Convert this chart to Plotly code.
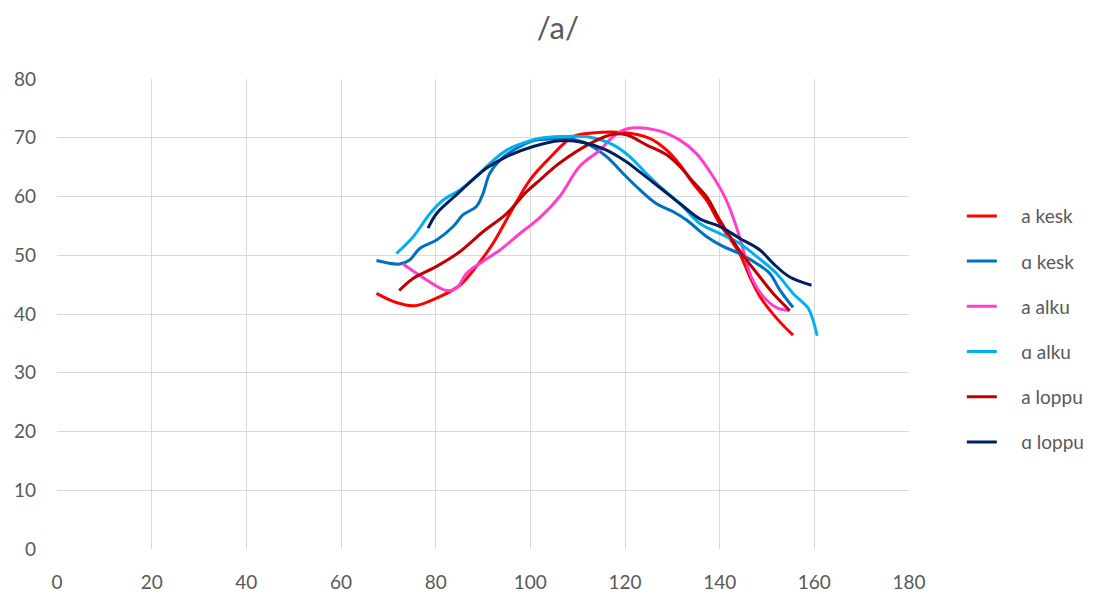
import plotly.graph_objects as go

# a kesk
a_kesk_x = [67.5, 71.5, 75.6, 80.2, 85.1, 88.6, 92.1, 95.7, 99.9, 104.0, 109.0, 113.0, 119.6, 125.2, 128.8, 131.6, 134.4, 137.2, 140.0, 144.2, 146.4, 148.5, 152.0, 155.5]
a_kesk_y = [43.5, 42.0, 41.4, 42.7, 44.9, 48.1, 52.0, 57.1, 62.8, 66.5, 70.2, 70.8, 70.9, 69.9, 67.9, 65.4, 62.2, 59.4, 55.4, 50.3, 46.3, 43.0, 39.3, 36.4]

# ɑ kesk
A_kesk_x = [67.5, 72.4, 74.5, 76.7, 80.2, 83.7, 85.8, 88.6, 90.0, 91.4, 93.6, 97.1, 100.6, 104.0, 107.6, 111.9, 116.1, 118.9, 122.4, 126.6, 130.2, 133.0, 137.2, 140.7, 144.2, 147.8, 150.6, 152.7, 155.5]
A_kesk_y = [49.1, 48.5, 49.2, 51.2, 52.6, 54.9, 56.9, 58.3, 60.5, 63.9, 66.2, 68.2, 69.5, 69.8, 69.9, 69.0, 66.8, 64.5, 61.7, 58.8, 57.4, 56.0, 53.2, 51.5, 50.3, 48.6, 46.9, 44.1, 41.1]

# a alku
a_alku_x = [73.1, 78.1, 82.3, 84.4, 86.5, 89.3, 93.6, 97.8, 102.0, 106.2, 110.4, 114.7, 117.5, 120.3, 126.6, 131.6, 135.1, 138.6, 141.4, 143.5, 145.0, 146.7, 149.2, 152.0, 154.8]
a_alku_y = [48.5, 45.8, 44.0, 44.4, 46.9, 48.6, 50.9, 53.7, 56.4, 60.0, 65.1, 67.9, 70.2, 71.5, 71.3, 69.6, 67.3, 63.4, 59.4, 54.9, 50.9, 46.3, 43.0, 41.1, 40.6]

# ɑ alku
A_alku_x = [71.7, 75.3, 78.8, 81.6, 85.1, 88.6, 91.4, 95.0, 99.2, 102.0, 106.2, 112.6, 117.5, 121.0, 124.5, 127.4, 131.6, 135.8, 140.0, 144.2, 147.8, 152.0, 155.5, 158.7, 159.7, 160.6]
A_alku_y = [50.3, 53.2, 57.1, 59.4, 61.1, 63.4, 65.6, 67.9, 69.3, 69.9, 70.2, 70.1, 68.8, 66.8, 63.9, 61.7, 58.8, 55.4, 53.7, 52.0, 49.8, 46.9, 43.5, 41.0, 39.0, 36.3]

# a loppu
a_loppu_x = [72.3, 75.3, 80.2, 85.1, 90.0, 95.0, 99.2, 102.0, 106.2, 113.3, 117.5, 120.3, 124.5, 128.8, 131.6, 134.4, 137.2, 140.0, 144.2, 148.5, 151.3, 154.8]
a_loppu_y = [44.0, 46.1, 48.1, 50.6, 54.0, 57.1, 60.8, 62.8, 65.7, 69.3, 70.6, 70.5, 68.8, 67.1, 65.1, 62.5, 60.0, 56.0, 50.8, 46.3, 43.5, 40.6]

# ɑ loppu
A_loppu_x = [78.4, 80.2, 84.4, 90.7, 95.0, 100.6, 106.2, 111.2, 116.1, 120.3, 123.1, 126.6, 131.6, 135.8, 140.0, 144.2, 148.5, 151.3, 154.8, 159.4]
A_loppu_y = [54.6, 57.1, 60.3, 64.8, 66.8, 68.5, 69.5, 69.2, 67.9, 65.9, 64.2, 62.0, 58.8, 56.2, 54.9, 52.9, 50.9, 48.6, 46.3, 44.9]

series = [
    ("a kesk", a_kesk_x, a_kesk_y, "#FF0000"),
    ("ɑ kesk", A_kesk_x, A_kesk_y, "#0070C0"),
    ("a alku", a_alku_x, a_alku_y, "#FF3FCB"),
    ("ɑ alku", A_alku_x, A_alku_y, "#00B0F0"),
    ("a loppu", a_loppu_x, a_loppu_y, "#C00000"),
    ("ɑ loppu", A_loppu_x, A_loppu_y, "#002060"),
]

fig = go.Figure()
for i, (name, xs, ys, col) in enumerate(series):
    fig.add_trace(go.Scatter(
        x=xs, y=ys, name="\u00a0\u00a0\u00a0\u00a0" + name, mode="lines",
        line=dict(color=col, width=3, shape="spline", smoothing=1.0),
        legendgroup=f"g{i}",
    ))

font_fam = "Lato, Open Sans, sans-serif"
fig.update_layout(
    width=1109, height=594,
    margin=dict(l=57, r=200, t=79, b=45),
    paper_bgcolor="white", plot_bgcolor="white",
    title=dict(text="/a/", x=0.503, xref="container", y=0.953, yanchor="middle",
               font=dict(family=font_fam, size=31, color="#595959")),
    font=dict(family=font_fam, color="#595959", size=19),
    xaxis=dict(range=[0, 180], tickvals=list(range(0, 181, 20)), showgrid=True,
               gridcolor="#D9D9D9", gridwidth=1, zeroline=False, showline=False,
               ticks="", tickfont=dict(size=19, color="#595959"), ticklabelstandoff=20,
               automargin=False),
    yaxis=dict(range=[0, 80], tickvals=list(range(0, 81, 10)), showgrid=True,
               gridcolor="#D9D9D9", gridwidth=1, zeroline=False, showline=False,
               ticks="", tickfont=dict(size=19, color="#595959"), ticklabelstandoff=20,
               automargin=False),
    legend=dict(x=1.062, xanchor="left", y=0.468, yanchor="middle",
                traceorder="grouped", tracegroupgap=17.5,
                font=dict(size=19, color="#595959"), bgcolor="rgba(0,0,0,0)"),
    showlegend=True,
)

fig.write_html("out.html", config={"displayModeBar": False},
               post_script="document.body.style.margin='0';document.body.style.padding='0';")
